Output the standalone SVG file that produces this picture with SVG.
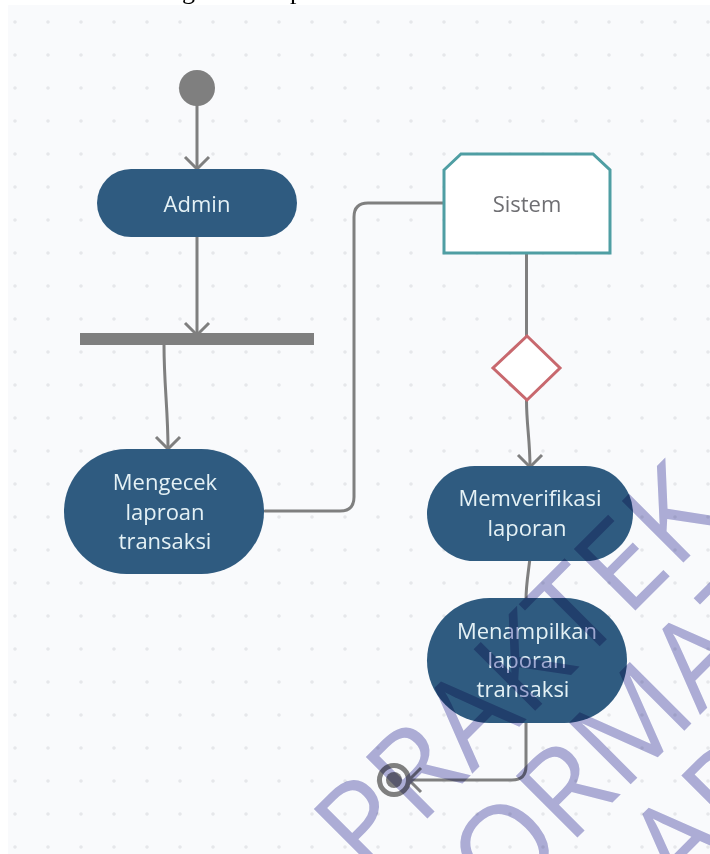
<svg xmlns="http://www.w3.org/2000/svg" width="710" height="854" viewBox="0 0 710 854">
<style>
.c{fill:none;stroke:#7f7f7f;stroke-width:3;stroke-linecap:round;stroke-linejoin:round}
.n{fill:#2f5b80}
.t{font-family:"Open Sans","Noto Sans",sans-serif;font-size:22px;fill:#e4f1f5;text-anchor:middle}
.w{font-family:"Open Sans","Noto Sans",sans-serif;font-size:122px;fill:#b0b0d8;mix-blend-mode:multiply}
.h{font-family:"Liberation Serif",serif;font-size:26px;fill:#000}
</style>
<defs>
<pattern id="dots" width="33" height="33" patternUnits="userSpaceOnUse" x="-1" y="5">
<circle cx="16" cy="17" r="1.8" fill="#e6e7ea"/>
</pattern>
<marker id="a" markerUnits="userSpaceOnUse" markerWidth="28" markerHeight="28" refX="22" refY="14" orient="auto">
<path d="M10 2L22 14L10 26" fill="none" stroke="#7f7f7f" stroke-width="3"/>
</marker>
</defs>
<rect width="710" height="854" fill="#fff"/>
<rect x="8" y="5" width="702" height="849" fill="#f9fafc"/>
<rect x="8" y="5" width="702" height="849" fill="url(#dots)"/>
<text class="h" x="182" y="-1">g</text>
<text class="h" x="290" y="-1">p</text>
<g id="connectors">
<path class="c" d="M197 105V169" marker-end="url(#a)"/>
<path class="c" d="M197 236V335" marker-end="url(#a)"/>
<path class="c" d="M164 345C164 385 168 410 168 449" marker-end="url(#a)"/>
<path class="c" d="M265 511H340Q354 511 354 497V217Q354 203 368 203H444"/>
<path class="c" d="M526.500 253V336"/>
<path class="c" d="M526.500 400C526.500 425 530 440 530 467" marker-end="url(#a)"/>
<path class="c" d="M530 558C528 575 526 585 526 600"/>
<path class="c" d="M526 720V766Q526 780 512 780H409" marker-end="url(#a)"/>
</g>
<g id="start"><circle cx="197" cy="88" r="18" fill="#7f7f7f"/></g>
<g id="admin"><rect class="n" x="97" y="169" width="200" height="68" rx="34"/><text class="t" x="197" y="212">Admin</text></g>
<g id="fork"><rect x="80" y="333" width="234" height="12" fill="#7f7f7f"/></g>
<g id="mengecek"><rect class="n" x="64" y="449" width="200" height="125" rx="62.500"/><text class="t" x="165" y="490">Mengecek</text><text class="t" x="165" y="520">laproan</text><text class="t" x="165" y="549">transaksi</text></g>
<g id="sistem"><path d="M444 170L461 154H593L610 170V253H444Z" fill="#fff" stroke="#4f9ea3" stroke-width="3"/><text x="527" y="212" font-family="'Open Sans','Noto Sans',sans-serif" font-size="22" fill="#6f6f73" text-anchor="middle">Sistem</text></g>
<g id="decision"><path d="M527 336L560 368L527 400L493 368Z" fill="#fff" stroke="#c8686e" stroke-width="3"/></g>
<g id="memverifikasi"><rect class="n" x="427" y="466" width="206" height="95" rx="47.500"/><text class="t" x="530" y="506">Memverifikasi</text><text class="t" x="527" y="536">laporan</text></g>
<g id="menampilkan"><rect class="n" x="427" y="598" width="200" height="125" rx="62.500"/><text class="t" x="527" y="639">Menampilkan</text><text class="t" x="527" y="668">laporan</text><text class="t" x="523" y="697">transaksi</text></g>
<g id="end"><circle cx="394" cy="780" r="14.500" fill="none" stroke="#7f7f7f" stroke-width="5"/><circle cx="394" cy="780" r="8" fill="#7f7f7f"/></g>
<text class="w" transform="translate(367,879) rotate(-45)">PRAKTEK</text>
<text class="w" transform="translate(502,913) rotate(-45)">ORMAT</text>
<text class="w" transform="translate(680,900) rotate(-45)">AP</text>
</svg>
